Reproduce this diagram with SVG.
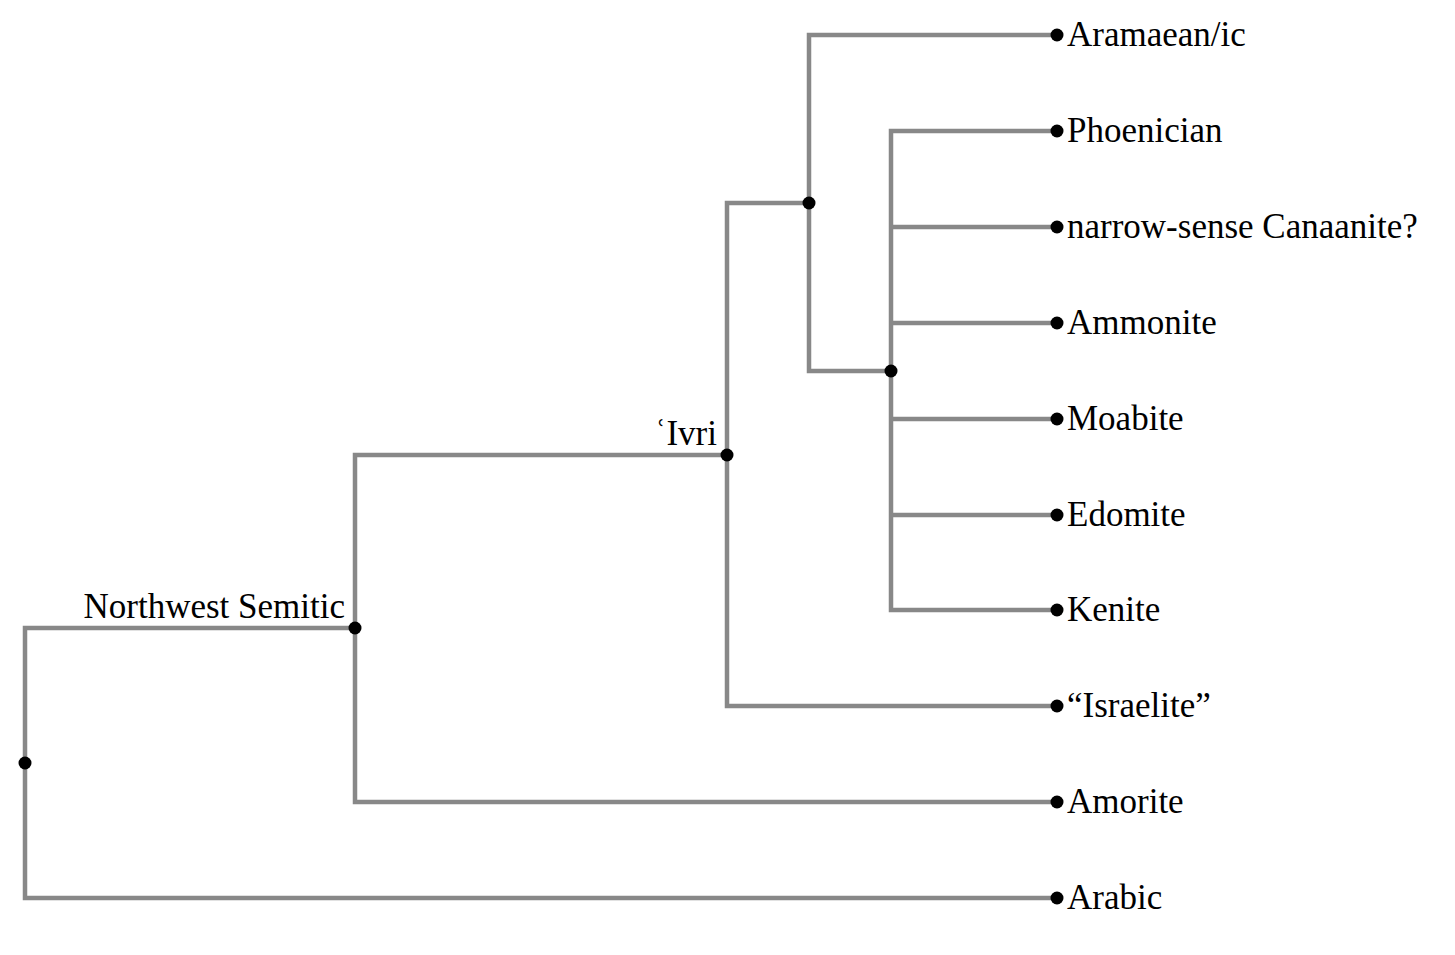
<svg xmlns="http://www.w3.org/2000/svg" width="1455" height="955" viewBox="0 0 1455 955">
<style>
.e{fill:none;stroke:#888888;stroke-width:4.5}
.d{fill:#000}
text{font-family:"Liberation Serif","Times New Roman",serif;font-size:35px;fill:#000}
.r{text-anchor:end}
</style>
<rect width="1455" height="955" fill="#fff"/>
<g id="connectors">
<path class="e" d="M355,628H25V898H1057"/>
<path class="e" d="M727,455H355V802H1057"/>
<path class="e" d="M809,203H727V706H1057"/>
<path class="e" d="M1057,35H809V371H891"/>
<path class="e" d="M1057,131H891V610H1057"/>
<path class="e" d="M891,227H1057M891,323H1057M891,419H1057M891,515H1057"/>
</g>
<g id="root"><circle class="d" cx="25" cy="763" r="6.5"/></g>
<g id="northwest-semitic"><circle class="d" cx="355" cy="628" r="6.5"/><text class="r" x="345" y="618">Northwest Semitic</text></g>
<g id="ivri"><circle class="d" cx="727" cy="455" r="6.5"/><text class="r" x="717" y="445">ʿIvri</text></g>
<g id="n1"><circle class="d" cx="809" cy="203" r="6.5"/></g>
<g id="n2"><circle class="d" cx="891" cy="371" r="6.5"/></g>
<g id="aramaean"><circle class="d" cx="1057" cy="35" r="6.5"/><text x="1067" y="46">Aramaean/ic</text></g>
<g id="phoenician"><circle class="d" cx="1057" cy="131" r="6.5"/><text x="1067" y="142">Phoenician</text></g>
<g id="canaanite"><circle class="d" cx="1057" cy="227" r="6.5"/><text x="1067" y="238">narrow-sense Canaanite?</text></g>
<g id="ammonite"><circle class="d" cx="1057" cy="323" r="6.5"/><text x="1067" y="334">Ammonite</text></g>
<g id="moabite"><circle class="d" cx="1057" cy="419" r="6.5"/><text x="1067" y="430">Moabite</text></g>
<g id="edomite"><circle class="d" cx="1057" cy="515" r="6.5"/><text x="1067" y="526">Edomite</text></g>
<g id="kenite"><circle class="d" cx="1057" cy="610" r="6.5"/><text x="1067" y="621">Kenite</text></g>
<g id="israelite"><circle class="d" cx="1057" cy="706" r="6.5"/><text x="1067" y="717">“Israelite”</text></g>
<g id="amorite"><circle class="d" cx="1057" cy="802" r="6.5"/><text x="1067" y="813">Amorite</text></g>
<g id="arabic"><circle class="d" cx="1057" cy="898" r="6.5"/><text x="1067" y="909">Arabic</text></g>
</svg>
